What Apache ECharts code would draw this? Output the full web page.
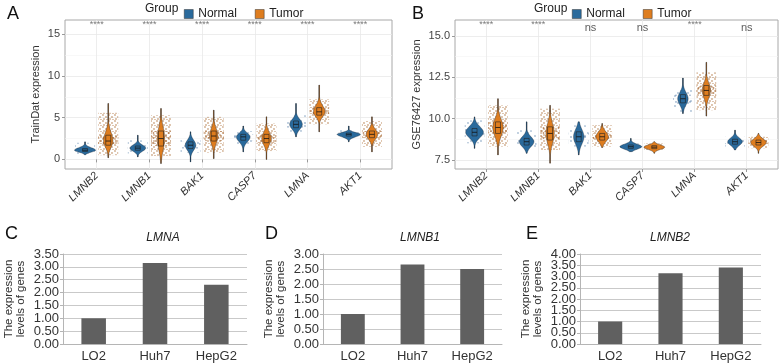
<!DOCTYPE html>
<html>
<head>
<meta charset="utf-8">
<script src="https://cdn.jsdelivr.net/npm/echarts@6/dist/echarts.min.js"></script>
<style>
  html, body { margin: 0; padding: 0; background: #fff; }
  #chart { width: 780px; height: 363px; }
</style>
</head>
<body>
<div id="chart"></div>
<script>
// genes on the violin panels
const genes = ["LMNB2", "LMNB1", "BAK1", "CASP7", "LMNA", "AKT1"];

// TrainDat (panel A): [min, q1, median, q3, max] per gene
const trainNormal = [[0.55, 0.95, 1.1, 1.3, 2.1], [0.3, 1.1, 1.35, 1.6, 2.9], [-0.3, 1.3, 1.7, 2.1, 3.3],
  [0.9, 2.3, 2.7, 3.0, 4.0], [2.7, 3.8, 4.2, 4.6, 6.7], [2.1, 2.8, 3.0, 3.15, 4.0]];
const trainTumor = [[0.2, 1.7, 2.2, 2.9, 6.7], [-0.5, 1.6, 2.5, 3.4, 6.1], [0.1, 2.2, 2.8, 3.4, 5.9],
  [0.0, 2.0, 2.5, 3.0, 5.1], [3.3, 5.3, 5.7, 6.2, 8.9], [0.9, 2.6, 3.0, 3.4, 5.1]];
// peak density (half width, x units)
const trainNormalDens = [0.2, 0.15, 0.1, 0.13, 0.12, 0.22];
const trainTumorDens = [0.09, 0.07, 0.08, 0.09, 0.11, 0.11];
// spread of the jittered samples [low, high]
const trainNormalPts = [[0.6, 2.0], [0.7, 2.3], [0.8, 2.6], [1.8, 3.4], [3.3, 5.3], [2.5, 3.5]];
const trainTumorPts = [[0.5, 5.6], [0.4, 5.3], [0.8, 5.1], [1.0, 4.3], [4.2, 7.2], [1.5, 4.6]];
const trainSig = ["****", "****", "****", "****", "****", "****"];

// GSE76427 (panel B)
const geoNormal = [[8.2, 8.95, 9.17, 9.4, 10.1], [7.9, 8.4, 8.6, 8.8, 9.8], [7.8, 8.6, 8.9, 9.2, 9.8],
  [8.0, 8.2, 8.3, 8.4, 8.8], [10.3, 10.95, 11.2, 11.45, 12.45], [8.1, 8.45, 8.6, 8.75, 9.3]];
const geoTumor = [[7.8, 9.1, 9.46, 9.8, 11.2], [7.3, 8.7, 9.1, 9.5, 10.8], [8.25, 8.7, 8.9, 9.1, 9.7],
  [7.9, 8.18, 8.27, 8.36, 8.6], [10.15, 11.4, 11.7, 12.0, 13.4], [7.9, 8.4, 8.55, 8.7, 9.1]];
const geoNormalDens = [0.17, 0.14, 0.1, 0.21, 0.1, 0.14];
const geoTumorDens = [0.1, 0.08, 0.12, 0.2, 0.08, 0.15];
const geoNormalPts = [[8.5, 9.9], [8.1, 9.3], [8.3, 9.6], [8.1, 8.5], [10.4, 11.9], [8.3, 8.9]];
const geoTumorPts = [[8.3, 10.8], [8.1, 10.6], [8.3, 9.6], [8.1, 8.5], [10.5, 12.8], [8.2, 8.9]];
const geoSig = ["****", "****", "ns", "ns", "****", "ns"];

// cell lines (panels C, D, E)
const cells = ["LO2", "Huh7", "HepG2"];
const lmnaLevels = [1.0, 3.15, 2.3];
const lmnb1Levels = [1.0, 2.65, 2.5];
const lmnb2Levels = [1.0, 3.15, 3.4];

const blue = "#2a6a9c";
const orange = "#de7d1f";

function dotPattern(color, size, pts) {
  const c = document.createElement("canvas");
  c.width = size;
  c.height = size;
  const ctx = c.getContext("2d");
  ctx.fillStyle = color;
  pts.forEach((p) => {
    ctx.beginPath();
    ctx.arc(p[0], p[1], 0.9, 0, Math.PI * 2);
    ctx.fill();
  });
  return { image: c, repeat: "repeat" };
}

const sparse = [[1, 1], [5, 6], [8, 3]];
const dense = [[1, 1], [4, 3], [2, 5], [5, 6]];
const bluePts = dotPattern("rgba(95,135,175,0.55)", 10, sparse);
const orangePts = dotPattern("rgba(175,115,60,0.6)", 6, dense);
const orangeCore = dotPattern("rgba(165,100,45,0.7)", 5, [[1, 1], [3.5, 3]]);
const blueCore = dotPattern("rgba(85,125,170,0.6)", 7, [[1, 1], [4, 4]]);

function violinItem(stats, dens, pts) {
  return stats.map((q, i) => [i + 1, q[0], q[1], q[2], q[3], q[4], dens[i], pts[i][0], pts[i][1]]);
}

function violin(dodge, fill, cloud, core) {
  return function (params, api) {
    const x = api.value(0) + dodge;
    const lo = api.value(1), q1 = api.value(2), med = api.value(3), q3 = api.value(4), hi = api.value(5);
    const w = api.value(6);
    const sLo = Math.max((med - q1) / 0.674, 0.01);
    const sHi = Math.max((q3 - med) / 0.674, 0.01);
    const left = [], right = [];
    const n = 60;
    for (let i = 0; i <= n; i++) {
      const y = lo + ((hi - lo) * i) / n;
      const z = (y - med) / (y < med ? sLo : sHi);
      const hw = Math.max(w * Math.exp(-0.5 * z * z), 0.006);
      left.push(api.coord([x - hw, y]));
      right.unshift(api.coord([x + hw, y]));
    }
    const jw = 0.19;
    const c1 = api.coord([x - jw, api.value(8)]);
    const c2 = api.coord([x + jw, api.value(7)]);
    const k1 = api.coord([x - jw, q3]);
    const k2 = api.coord([x + jw, q1]);
    const top = api.coord([x, hi]);
    const bot = api.coord([x, lo]);
    const b3 = api.coord([x, q3]);
    const b1 = api.coord([x, q1]);
    const bm = api.coord([x, med]);
    return {
      type: "group",
      children: [
        { type: "rect", shape: { x: c1[0], y: c1[1], width: c2[0] - c1[0], height: c2[1] - c1[1] }, style: { fill: cloud } },
        { type: "rect", shape: { x: k1[0], y: k1[1], width: k2[0] - k1[0], height: k2[1] - k1[1] }, style: { fill: core } },
        { type: "line", shape: { x1: top[0], y1: top[1], x2: bot[0], y2: bot[1] }, style: { stroke: "#222", lineWidth: 0.9 } },
        { type: "polygon", shape: { points: left.concat(right) }, style: { fill: fill, stroke: "rgba(20,30,40,0.7)", lineWidth: 0.5 } },
        { type: "rect", shape: { x: b3[0] - 2.5, y: b3[1], width: 5, height: b1[1] - b3[1] }, style: { fill: fill, stroke: "#222", lineWidth: 0.6 } },
        { type: "line", shape: { x1: bm[0] - 2.5, y1: bm[1], x2: bm[0] + 2.5, y2: bm[1] }, style: { stroke: "#111", lineWidth: 0.8 } },
      ],
    };
  };
}

function sigData(sig, yStar, yNs) {
  return sig.map((s, i) => ({
    value: [i + 1, s === "ns" ? yNs : yStar],
    label: s === "ns" ? { fontSize: 11, color: "#333" } : { fontSize: 9, color: "#555" },
  }));
}

const idx = [1, 2, 3, 4, 5, 6];
const gridLine = { lineStyle: { color: "#e8e8e8", width: 0.8 } };

function geneAxis(grid) {
  return {
    type: "value", gridIndex: grid, min: 0.4, max: 6.6,
    axisLine: { show: false },
    axisTick: { customValues: idx, length: 3, lineStyle: { color: "#999" } },
    axisLabel: {
      customValues: idx, formatter: (v) => genes[Math.round(v) - 1],
      rotate: 45, fontStyle: "italic", fontSize: 11, color: "#333", margin: 5,
    },
    splitLine: gridLine,
  };
}

function exprAxis(grid, min, max, ticks, name, gap) {
  return {
    type: "value", gridIndex: grid, min: min, max: max,
    name: name, nameLocation: "middle", nameGap: gap,
    nameTextStyle: { fontSize: 11, color: "#333" },
    axisLine: { show: false },
    axisTick: { customValues: ticks, length: 3, lineStyle: { color: "#999" } },
    axisLabel: { customValues: ticks, fontSize: 11, color: "#444", margin: 5, formatter: (v) => (gap > 28 ? v.toFixed(1) : v) },
    splitLine: gridLine,
  };
}

function minorAxis(grid, min, max, ticks) {
  return {
    type: "value", gridIndex: grid, min: min, max: max, position: "left",
    axisLine: { show: false },
    axisTick: { show: false, customValues: ticks },
    axisLabel: { show: false, customValues: ticks },
    splitLine: { lineStyle: { color: "#f3f3f3", width: 0.6 } },
  };
}

function cellAxis(grid) {
  return {
    type: "category", gridIndex: grid, data: cells,
    axisLine: { lineStyle: { color: "#b5b5b5" } },
    axisTick: { length: 5, lineStyle: { color: "#b5b5b5" } },
    axisLabel: { fontSize: 13, color: "#333", margin: 6 },
  };
}

const levelLabel = { fontSize: 13, color: "#333", margin: 4, hideOverlap: false, showMinLabel: true, showMaxLabel: true,
  formatter: (v) => v.toFixed(2) };

function levelAxis(grid, max, labels) {
  return {
    type: "value", gridIndex: grid, min: 0, max: max, interval: 0.5,
    name: "The expression\nlevels of genes", nameLocation: "middle", nameGap: 36,
    nameTextStyle: { fontSize: 11.5, color: "#333", lineHeight: 12 },
    axisLine: { show: true, lineStyle: { color: "#b5b5b5" } },
    axisTick: { show: true, length: 3, lineStyle: { color: "#b5b5b5" } },
    axisLabel: labels ? Object.assign({ customValues: labels }, levelLabel) : levelLabel,
    splitLine: { lineStyle: { color: "#c9c9c9" } },
  };
}

// second label row for a tightly packed axis
function levelLabelsOnly(grid, max, labels) {
  return {
    type: "value", gridIndex: grid, min: 0, max: max, position: "left",
    axisLine: { show: false }, axisTick: { show: false }, splitLine: { show: false },
    axisLabel: Object.assign({ customValues: labels }, levelLabel),
  };
}

function cellBars(name, grid, data) {
  return {
    name: name, type: "bar", xAxisIndex: grid, yAxisIndex: grid, data: data,
    barWidth: "40%", itemStyle: { color: "#606060" }, silent: true,
  };
}

const chart = echarts.init(document.getElementById("chart"));
const option = {
  animation: false,
  textStyle: { fontFamily: "Liberation Sans, Arial, sans-serif" },
  grid: [
    { left: 65, top: 20, width: 327, height: 149, show: true, borderColor: "#a8a8a8", borderWidth: 1 },
    { left: 455, top: 20, width: 323, height: 149, show: true, borderColor: "#a8a8a8", borderWidth: 1 },
    { left: 63, top: 254, width: 184, height: 92 },
    { left: 323, top: 254, width: 179, height: 92 },
    { left: 580, top: 254, width: 181, height: 92 },
  ],
  legend: [
    { left: 179, top: 3, data: ["Normal", "Tumor"], icon: "rect", itemWidth: 9, itemHeight: 9, itemGap: 18,
      textStyle: { fontSize: 12, color: "#222" }, itemStyle: { borderColor: "#333", borderWidth: 0.5 } },
    { left: 567, top: 3, data: ["Normal", "Tumor"], icon: "rect", itemWidth: 9, itemHeight: 9, itemGap: 18,
      textStyle: { fontSize: 12, color: "#222" }, itemStyle: { borderColor: "#333", borderWidth: 0.5 } },
  ],
  xAxis: [geneAxis(0), geneAxis(1), cellAxis(2), cellAxis(3), cellAxis(4)],
  yAxis: [
    exprAxis(0, -1.15, 16.7, [0, 5, 10, 15], "TrainDat expression", 24),
    exprAxis(1, 6.95, 15.96, [7.5, 10, 12.5, 15], "GSE76427 expression", 33),
    levelAxis(2, 3.5),
    levelAxis(3, 3),
    levelAxis(4, 4, [0, 1, 2, 3, 4]),
    minorAxis(0, -1.15, 16.7, [2.5, 7.5, 12.5]),
    minorAxis(1, 6.95, 15.96, [8.75, 11.25, 13.75]),
    levelLabelsOnly(4, 4, [0.5, 1.5, 2.5, 3.5]),
  ],
  graphic: [
    { type: "text", left: 7, top: 5, style: { text: "A", fontSize: 18, fill: "#111" } },
    { type: "text", left: 412, top: 5, style: { text: "B", fontSize: 18, fill: "#111" } },
    { type: "text", left: 5, top: 225, style: { text: "C", fontSize: 18, fill: "#111" } },
    { type: "text", left: 265, top: 225, style: { text: "D", fontSize: 18, fill: "#111" } },
    { type: "text", left: 526, top: 225, style: { text: "E", fontSize: 18, fill: "#111" } },
    { type: "text", left: 145, top: 3, style: { text: "Group", fontSize: 12, fill: "#222" } },
    { type: "text", left: 534, top: 3, style: { text: "Group", fontSize: 12, fill: "#222" } },
    { type: "text", x: 163, y: 232, style: { text: "LMNA", fontSize: 12, fontStyle: "italic", fill: "#222", textAlign: "center" } },
    { type: "text", x: 420, y: 232, style: { text: "LMNB1", fontSize: 12, fontStyle: "italic", fill: "#222", textAlign: "center" } },
    { type: "text", x: 670, y: 232, style: { text: "LMNB2", fontSize: 12, fontStyle: "italic", fill: "#222", textAlign: "center" } },
  ],
  series: [
    { name: "Normal", type: "custom", xAxisIndex: 0, yAxisIndex: 0, itemStyle: { color: blue },
      renderItem: violin(-0.22, blue, bluePts, blueCore), data: violinItem(trainNormal, trainNormalDens, trainNormalPts),
      encode: { x: 0, y: [1, 5] }, silent: true },
    { name: "Tumor", type: "custom", xAxisIndex: 0, yAxisIndex: 0, itemStyle: { color: orange },
      renderItem: violin(0.22, orange, orangePts, orangeCore), data: violinItem(trainTumor, trainTumorDens, trainTumorPts),
      encode: { x: 0, y: [1, 5] }, silent: true },
    { name: "Normal", type: "custom", xAxisIndex: 1, yAxisIndex: 1, itemStyle: { color: blue },
      renderItem: violin(-0.225, blue, bluePts, blueCore), data: violinItem(geoNormal, geoNormalDens, geoNormalPts),
      encode: { x: 0, y: [1, 5] }, silent: true },
    { name: "Tumor", type: "custom", xAxisIndex: 1, yAxisIndex: 1, itemStyle: { color: orange },
      renderItem: violin(0.225, orange, orangePts, orangeCore), data: violinItem(geoTumor, geoTumorDens, geoTumorPts),
      encode: { x: 0, y: [1, 5] }, silent: true },
    { name: "sigA", type: "scatter", xAxisIndex: 0, yAxisIndex: 0, symbolSize: 0, silent: true,
      data: sigData(trainSig, 16.1, 15.8),
      label: { show: true, position: "inside", formatter: (p) => trainSig[p.dataIndex] } },
    { name: "sigB", type: "scatter", xAxisIndex: 1, yAxisIndex: 1, symbolSize: 0, silent: true,
      data: sigData(geoSig, 15.66, 15.45),
      label: { show: true, position: "inside", formatter: (p) => geoSig[p.dataIndex] } },
    cellBars("LMNA", 2, lmnaLevels),
    cellBars("LMNB1", 3, lmnb1Levels),
    cellBars("LMNB2", 4, lmnb2Levels),
  ],
};
chart.setOption(option);
window.addEventListener("resize", () => {
  chart.resize();
});
</script>
</body>
</html>
